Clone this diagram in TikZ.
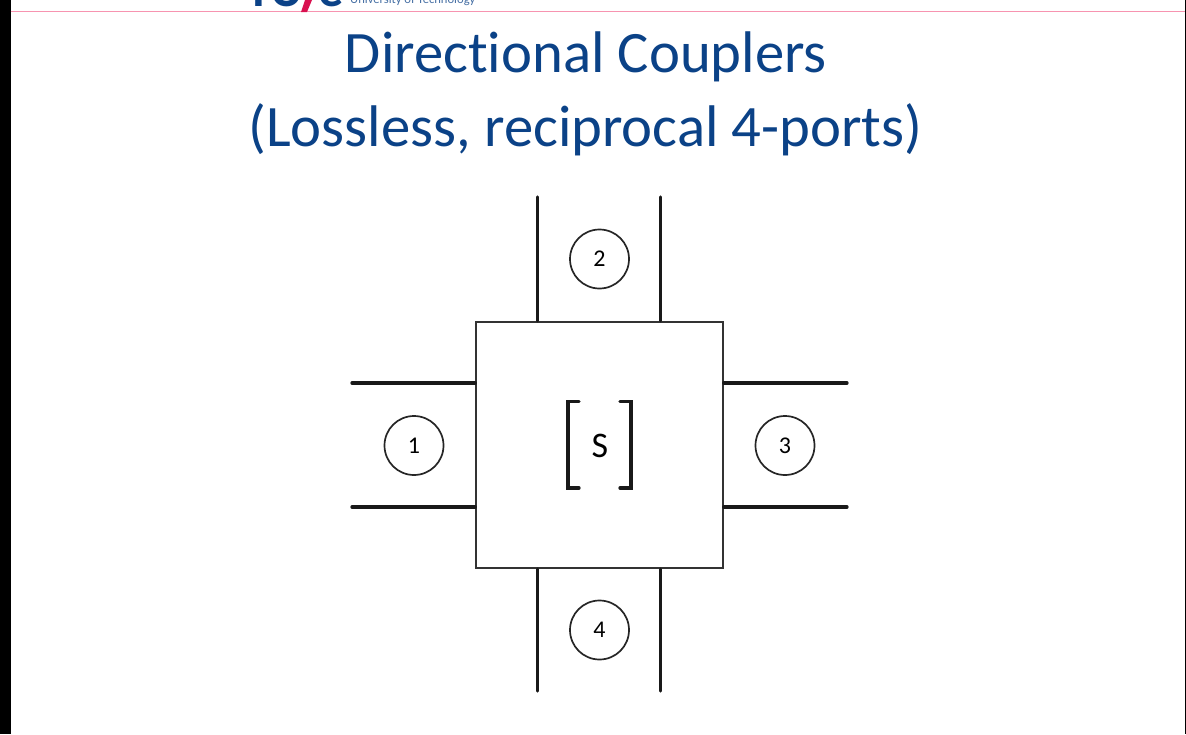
\documentclass[tikz,border=0pt]{standalone}
\usepackage{fontspec}
\setmainfont[Ligatures=NoCommon]{Carlito}
\definecolor{tuenavy}{HTML}{0B4287}
\definecolor{tuered}{HTML}{D9114F}
\definecolor{tuepink}{HTML}{F794B0}
\tikzset{
  wall/.style={line width=3.3pt,line cap=round,black!90},
  portcircle/.style={circle,draw=black!85,line width=1.7pt,minimum size=59pt,inner sep=0pt,font=\fontsize{24}{26}\selectfont},
  titletext/.style={text=tuenavy,font=\fontsize{58.7}{64}\selectfont,inner sep=0pt,anchor=base},
  brace/.style={line width=3.3pt,line cap=round,line join=miter,black!90},
}
\begin{document}
\begin{tikzpicture}[x=1pt,y=-1pt]
\useasboundingbox (0,0) rectangle (1186,734);
\fill[white] (0,0) rectangle (1186,734);
\fill[black] (0,0) rectangle (10.5,734);
\fill[black] (1185,0) rectangle (1186,734);
\begin{scope}
\clip (11,0) rectangle (1184,11);
\node[anchor=base west,inner sep=0pt,text=tuenavy!75,font=\fontsize{12.6}{14}\selectfont] (uni) at (350,3.5) {University of Technology};
\node[anchor=base west,inner sep=0pt,text=tuenavy,font=\bfseries\fontsize{50}{50}\selectfont] (logoa) at (246,6.5) {TU};
\node[anchor=base west,inner sep=0pt,text=tuenavy,font=\bfseries\fontsize{50}{50}\selectfont] (logob) at (318,6.5) {e};
\end{scope}
\draw[tuepink,line width=1.5pt] (10.5,11.5) -- (1185,11.5);
\fill[tuered] (305,0) -- (312,0) -- (307,12) -- (301,12) -- cycle;
\node[titletext] (t1) at (586,72) {Directional Couplers};
\node[titletext] (t2) at (585.5,146) {(Lossless, reciprocal 4-ports)};
\node[draw=black!80,line width=2pt,minimum size=246.5pt,inner sep=0pt] (box) at (599.5,445) {};
\node[font=\fontsize{36}{38}\selectfont,inner sep=0pt] (s) at (600,445.5) {S};
\draw[brace] (579,401.5) -- (568,401.5) -- (568,488) -- (579,488);
\draw[brace] (620,401.5) -- (631,401.5) -- (631,488) -- (620,488);
\node[portcircle] (p1) at (414,445.5) {1};
\node[portcircle] (p2) at (599.5,259) {2};
\node[portcircle] (p3) at (785,445.5) {3};
\node[portcircle] (p4) at (599.5,630) {4};
\coordinate (w1a) at (352,383);\coordinate (w1b) at (352,507);
\coordinate (w3a) at (847,383);\coordinate (w3b) at (847,507);
\coordinate (w2a) at (537.5,197);\coordinate (w2b) at (660.5,197);
\coordinate (w4a) at (537.5,691);\coordinate (w4b) at (660.5,691);
\draw[wall] (w1a) -- (w1a -| box.west);
\draw[wall] (w1b) -- (w1b -| box.west);
\draw[wall] (w3a) -- (w3a -| box.east);
\draw[wall] (w3b) -- (w3b -| box.east);
\draw[wall] (w2a) -- (w2a |- box.north);
\draw[wall] (w2b) -- (w2b |- box.north);
\draw[wall] (w4a) -- (w4a |- box.south);
\draw[wall] (w4b) -- (w4b |- box.south);
\end{tikzpicture}
\end{document}
